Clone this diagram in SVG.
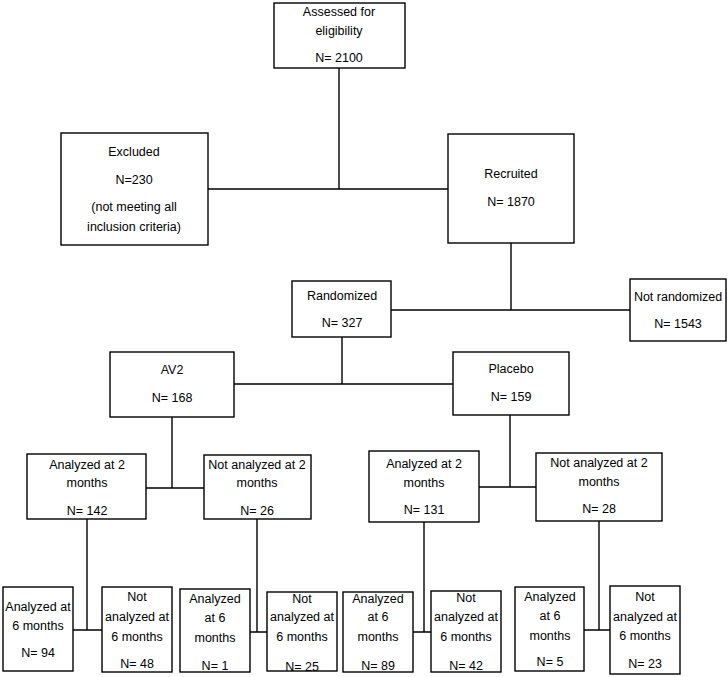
<svg xmlns="http://www.w3.org/2000/svg" width="728" height="677" viewBox="0 0 728 677">
<style>
rect{fill:#fff;stroke:#000;stroke-width:1.4}
#connectors path{fill:none;stroke:#000;stroke-width:1.4}
text{font-family:"Liberation Sans",Arial,sans-serif;font-size:12.5px;fill:#000;text-anchor:middle;dominant-baseline:central}
</style>
<rect x="0" y="0" width="728" height="677" style="stroke:none;fill:#fff"/>
<g id="connectors">
<path d="M339 68V189M208 189H448"/>
<path d="M511 243V310M391 310H630"/>
<path d="M342 337V384M234 384H453"/>
<path d="M172 417V488M146 488H204"/>
<path d="M510 415V487M479 487H536"/>
<path d="M87 519V630M73 630H102"/>
<path d="M257 519V632M250 632H267"/>
<path d="M424 522V632M413 632H431"/>
<path d="M599 521V630M584 630H610"/>
</g>
<g id="assessed"><rect x="274" y="3" width="131" height="65"/><text x="339" y="12">Assessed for</text><text x="339" y="31">eligibility</text><text x="339" y="58">N= 2100</text></g>
<g id="excluded"><rect x="61" y="133" width="147" height="112"/><text x="134" y="152">Excluded</text><text x="134" y="180">N=230</text><text x="134" y="207">(not meeting all</text><text x="134" y="227">inclusion criteria)</text></g>
<g id="recruited"><rect x="448" y="134" width="126" height="109"/><text x="511" y="174">Recruited</text><text x="511" y="202">N= 1870</text></g>
<g id="randomized"><rect x="292" y="281" width="99" height="56"/><text x="342" y="296">Randomized</text><text x="342" y="323">N= 327</text></g>
<g id="not-randomized"><rect x="630" y="279" width="96" height="62"/><text x="678" y="297">Not randomized</text><text x="678" y="324">N= 1543</text></g>
<g id="av2"><rect x="110" y="352" width="124" height="65"/><text x="172" y="370">AV2</text><text x="172" y="398">N= 168</text></g>
<g id="placebo"><rect x="453" y="352" width="116" height="63"/><text x="511" y="369">Placebo</text><text x="511" y="397">N= 159</text></g>
<g id="av2-analyzed-2"><rect x="27" y="454" width="119" height="65"/><text x="87" y="465">Analyzed at 2</text><text x="87" y="483">months</text><text x="87" y="511">N= 142</text></g>
<g id="av2-not-analyzed-2"><rect x="204" y="455" width="107" height="64"/><text x="257" y="465">Not analyzed at 2</text><text x="257" y="483">months</text><text x="257" y="511">N= 26</text></g>
<g id="pl-analyzed-2"><rect x="369" y="451" width="110" height="71"/><text x="424" y="464">Analyzed at 2</text><text x="424" y="483">months</text><text x="424" y="510">N= 131</text></g>
<g id="pl-not-analyzed-2"><rect x="536" y="453" width="126" height="68"/><text x="599" y="463">Not analyzed at 2</text><text x="599" y="482">months</text><text x="599" y="509">N= 28</text></g>
<g id="a1"><rect x="3" y="587" width="70" height="84"/><text x="38" y="607">Analyzed at</text><text x="38" y="626">6 months</text><text x="38" y="653">N= 94</text></g>
<g id="a2"><rect x="102" y="587" width="70" height="85"/><text x="137" y="597">Not</text><text x="137" y="617">analyzed at</text><text x="137" y="637">6 months</text><text x="137" y="664">N= 48</text></g>
<g id="a3"><rect x="180" y="589" width="70" height="83"/><text x="215" y="599">Analyzed</text><text x="215" y="618">at 6</text><text x="215" y="638">months</text><text x="215" y="666">N= 1</text></g>
<g id="a4"><rect x="267" y="592" width="70" height="79"/><text x="302" y="599">Not</text><text x="302" y="617">analyzed at</text><text x="302" y="637">6 months</text><text x="302" y="667">N= 25</text></g>
<g id="a5"><rect x="343" y="592" width="70" height="80"/><text x="378" y="599">Analyzed</text><text x="378" y="617">at 6</text><text x="378" y="637">months</text><text x="378" y="666">N= 89</text></g>
<g id="a6"><rect x="431" y="591" width="70" height="81"/><text x="466" y="598">Not</text><text x="466" y="617">analyzed at</text><text x="466" y="637">6 months</text><text x="466" y="666">N= 42</text></g>
<g id="a7"><rect x="515" y="587" width="69" height="84"/><text x="550" y="597">Analyzed</text><text x="550" y="616">at 6</text><text x="550" y="636">months</text><text x="550" y="662">N= 5</text></g>
<g id="a8"><rect x="610" y="586" width="70" height="88"/><text x="645" y="597">Not</text><text x="645" y="617">analyzed at</text><text x="645" y="636">6 months</text><text x="645" y="664">N= 23</text></g>
</svg>
